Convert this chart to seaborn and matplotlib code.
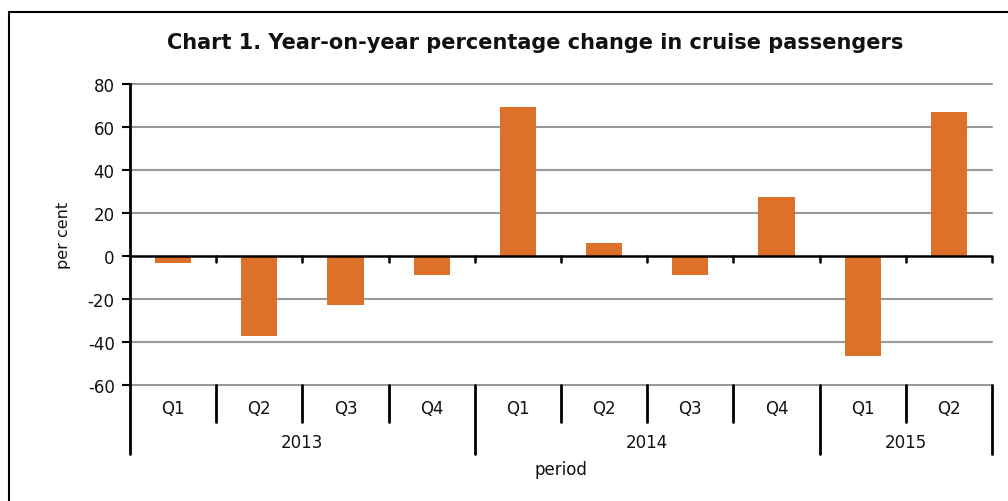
import matplotlib
matplotlib.use("Agg")
import matplotlib.pyplot as plt
from matplotlib.lines import Line2D
import matplotlib.transforms as mtransforms
import seaborn as sns
import pandas as pd

years = ["2013", "2013", "2013", "2013", "2014", "2014", "2014", "2014", "2015", "2015"]
quarters = ["Q1", "Q2", "Q3", "Q4", "Q1", "Q2", "Q3", "Q4", "Q1", "Q2"]
values = [-3.3, -37.3, -22.9, -8.9, 69.2, 6.1, -8.9, 27.6, -46.3, 66.8]
yticks = [-60, -40, -20, 0, 20, 40, 60, 80]

title = "Chart 1. Year-on-year percentage change in cruise passengers"
ylabel = "per cent"
xlabel = "period"

sns.set_theme(style="white")
plt.rcParams["font.family"] = ["DejaVu Sans"]

FS = 12
df = pd.DataFrame({"period": [f"{y} {q}" for y, q in zip(years, quarters)], "value": values})

fig = plt.figure(figsize=(10.08, 5.02), dpi=100)
ax = fig.add_axes([130 / 1008, 1 - 386 / 502, (992 - 130) / 1008, (386 - 85) / 502])

sns.barplot(data=df, x="period", y="value", color="#DD7129", width=0.42,
            saturation=1, ax=ax, edgecolor="none")

ax.set_xlim(-0.5, len(values) - 0.5)
ax.set_ylim(min(yticks), max(yticks))
ax.set_yticks(yticks)
ax.set_yticklabels([str(t) for t in yticks], fontsize=FS, color="#111111")
ax.set_xticks([])
ax.set_xlabel("")
ax.set_ylabel(ylabel, fontsize=FS - 0.5, color="#111111", labelpad=12)
ax.tick_params(axis="y", length=6, width=1.5, color="black", direction="out", pad=5, left=True)

for t in yticks:
    if t != 0:
        ax.axhline(t, color="#999999", lw=1.5, zorder=0, clip_on=False)
ax.axhline(0, color="black", lw=1.8, zorder=3)

for s in ["top", "right", "bottom"]:
    ax.spines[s].set_visible(False)
ax.spines["left"].set_color("black")
ax.spines["left"].set_linewidth(2)

trans = mtransforms.blended_transform_factory(ax.transData, ax.transAxes)
h = 386 - 85
def ay(py):
    return (386 - py) / h

n = len(values)
for i in range(1, n + 1):
    ax.plot([i - 0.5, i - 0.5], [0, -2.6], color="black", lw=1.8, clip_on=False, zorder=3)

ax.plot([-0.5, -0.5], [ay(386), ay(455)], transform=trans, color="black", lw=2, clip_on=False)

for i in range(1, n + 1):
    xb = i - 0.5
    is_year = (i == n) or (years[i] != years[i - 1])
    bottom = ay(455) if is_year else ay(423)
    ax.plot([xb, xb], [ay(386), bottom], transform=trans, color="black", lw=2, clip_on=False)

for i, q in enumerate(quarters):
    ax.text(i, ay(409), q, transform=trans, ha="center", va="center", fontsize=FS, color="#111111")

uniq = []
for i, y in enumerate(years):
    if not uniq or uniq[-1][0] != y:
        uniq.append([y, i, i])
    else:
        uniq[-1][2] = i
for y, a, b in uniq:
    ax.text((a + b) / 2, ay(443), y, transform=trans, ha="center", va="center", fontsize=FS, color="#111111")

ax.text(0.5, ay(470), xlabel, transform=ax.transAxes, ha="center", va="center", fontsize=FS, color="#111111")

fig.text(535 / 1008, 1 - 43 / 502, title, ha="center", va="center", fontsize=15,
         fontweight="bold", color="#111111")

fig.add_artist(Line2D([9 / 1008, 9 / 1008], [0, 1 - 12.5 / 502], transform=fig.transFigure, color="black", lw=1.5))
fig.add_artist(Line2D([9 / 1008, 1], [1 - 12.5 / 502, 1 - 12.5 / 502], transform=fig.transFigure, color="black", lw=1.5))

fig.savefig("out.png", dpi=100)
